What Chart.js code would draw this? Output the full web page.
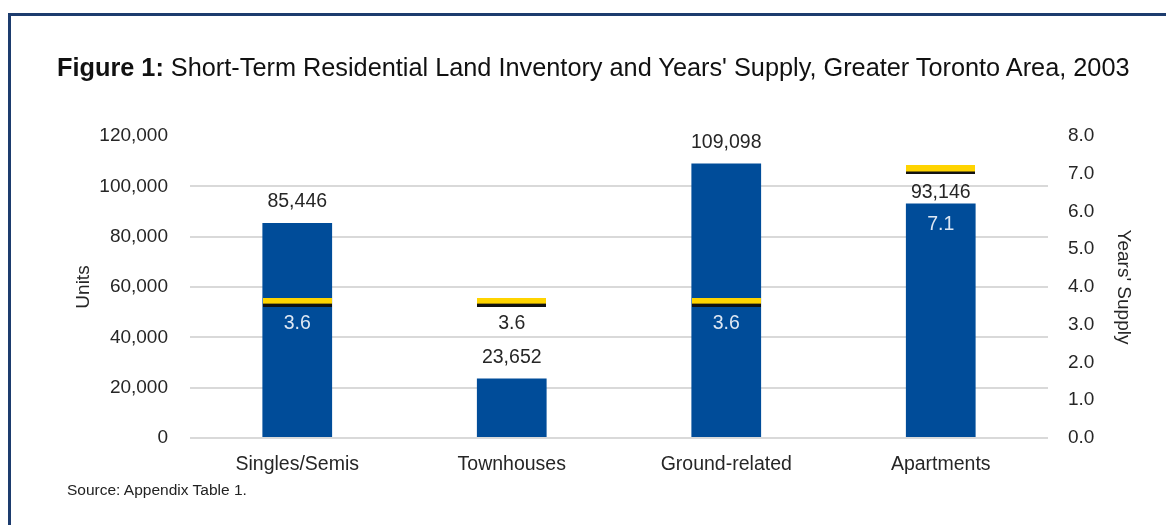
<!DOCTYPE html>
<html>
<head>
<meta charset="utf-8">
<script src="https://cdn.jsdelivr.net/npm/chart.js@4.4.0/dist/chart.umd.min.js"></script>
<style>
  body { margin: 0; background: #fff; font-family: "Liberation Sans", Arial, sans-serif; }
  #frame { position: absolute; left: 8px; top: 13px; width: 1160px; height: 520px;
           border-top: 3px solid #1d3c6e; border-left: 3px solid #1d3c6e; }
  #wrap { position: absolute; left: 0; top: 0; width: 1166px; height: 525px; }
  #title { position: absolute; left: 57px; top: 53px; font-size: 25.3px; color: #111; white-space: nowrap; }
  #source { position: absolute; left: 67px; top: 481px; font-size: 15.5px; color: #222; }
</style>
</head>
<body>
<div id="frame"></div>
<div id="wrap"><canvas id="chart" width="1166" height="525"></canvas></div>
<div id="title"><b>Figure 1:</b> Short-Term Residential Land Inventory and Years' Supply, Greater Toronto Area, 2003</div>
<div id="source">Source: Appendix Table 1.</div>
<script>
// data
const categories = ['Singles/Semis', 'Townhouses', 'Ground-related', 'Apartments'];
const units = [85446, 23652, 109098, 93146];
const yearsSupply = [3.6, 3.6, 3.6, 7.1];
const unitTicks = [0, 20000, 40000, 60000, 80000, 100000, 120000];
const yearTicks = [0, 1, 2, 3, 4, 5, 6, 7, 8];

const BLUE = '#004c99';
const TXT = '#262626';
const FONT = '"Liberation Sans", Arial, sans-serif';

// yellow/black dash used as the years' supply marker
const marker = document.createElement('canvas');
marker.width = 69; marker.height = 9;
const mctx = marker.getContext('2d');
mctx.fillStyle = '#ffd400'; mctx.fillRect(0, 0, 69, 6);
mctx.fillStyle = '#111111'; mctx.fillRect(0, 6, 69, 3);

const labelPlugin = {
  id: 'labels',
  afterDatasetsDraw(chart) {
    const ctx = chart.ctx;
    const bars = chart.getDatasetMeta(1).data;
    const y1 = chart.scales.y1;
    ctx.save();
    ctx.font = '19.5px ' + FONT;
    ctx.textAlign = 'center';
    ctx.textBaseline = 'middle';
    bars.forEach((bar, i) => {
      const top = bar.y;
      const my = y1.getPixelForValue(yearsSupply[i]);
      // units label above the bar, moved under the marker if they collide
      let vy = top - 21;
      if (Math.abs(vy - my) < 16) vy = my + 23;
      ctx.fillStyle = TXT;
      ctx.fillText(units[i].toLocaleString('en-US'), bar.x, vy);
      // years label under the marker, or inside the bar top when crowded
      let ly = my + 22;
      let inside = ly > top;
      if (Math.abs(ly - vy) < 24) { ly = top + 21; inside = true; }
      ctx.fillStyle = inside ? '#dde7f3' : TXT;
      ctx.fillText(yearsSupply[i].toFixed(1), bar.x, ly);
    });
    ctx.restore();
  }
};

new Chart(document.getElementById('chart'), {
  data: {
    labels: categories,
    datasets: [
      {
        type: 'line',
        data: yearsSupply,
        yAxisID: 'y1',
        showLine: false,
        pointStyle: marker,
        pointRadius: 5,
        order: 0
      },
      {
        type: 'bar',
        data: units,
        yAxisID: 'y',
        backgroundColor: BLUE,
        barPercentage: 1,
        categoryPercentage: 0.325,
        order: 1
      }
    ]
  },
  options: {
    responsive: false,
    animation: false,
    layout: { padding: { left: 72, right: 31, top: 136, bottom: 32 } },
    plugins: { legend: { display: false }, tooltip: { enabled: false } },
    scales: {
      x: {
        grid: { display: false },
        border: { display: false },
        ticks: { color: TXT, padding: 7, font: { size: 19.5, family: FONT } },
        afterFit(s) { s.height = 55; }
      },
      y: {
        position: 'left',
        min: unitTicks[0],
        max: unitTicks[unitTicks.length - 1],
        afterBuildTicks(s) { s.ticks = unitTicks.map(v => ({ value: v })); },
        grid: {
          drawTicks: false,
          lineWidth: 2,
          color: c => c.tick && c.tick.value === 120000 ? 'rgba(0,0,0,0)' : '#d9d9d9'
        },
        border: { display: false },
        ticks: {
          color: TXT, padding: 22,
          font: { size: 19, family: FONT },
          callback: v => v.toLocaleString('en-US')
        },
        title: {
          display: true, text: 'Units', color: TXT, padding: 0,
          font: { size: 19, family: FONT }
        },
        afterFit(s) { s.width = 118; }
      },
      y1: {
        position: 'right',
        min: yearTicks[0],
        max: yearTicks[yearTicks.length - 1],
        afterBuildTicks(s) { s.ticks = yearTicks.map(v => ({ value: v })); },
        grid: { display: false },
        border: { display: false },
        ticks: {
          color: TXT, padding: 12,
          font: { size: 19, family: FONT },
          callback: v => Number(v).toFixed(1)
        },
        title: {
          display: true, text: "Years' Supply", color: TXT, padding: 0,
          font: { size: 19, family: FONT }
        },
        afterFit(s) { s.width = 87; }
      }
    }
  },
  plugins: [labelPlugin]
});
</script>
</body>
</html>
